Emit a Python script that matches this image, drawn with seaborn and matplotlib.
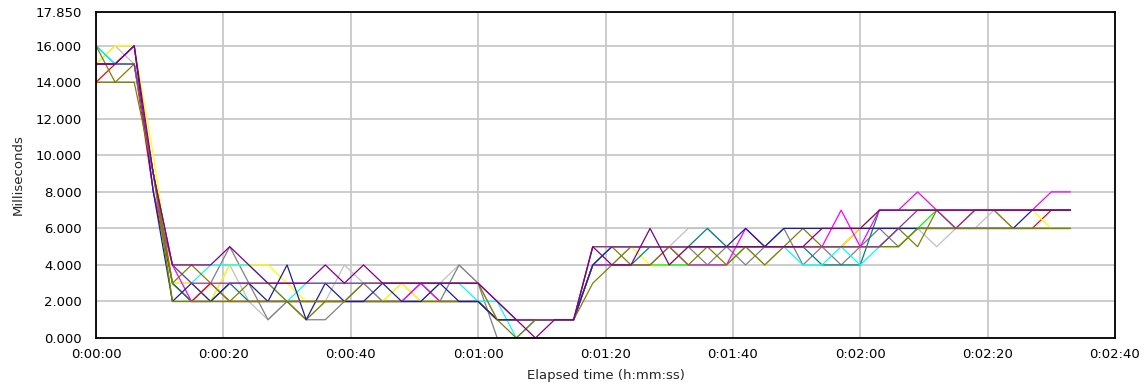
import numpy as np
import pandas as pd
import matplotlib
matplotlib.use("Agg")
import matplotlib.pyplot as plt
from matplotlib.ticker import FuncFormatter, FixedLocator
import seaborn as sns

# Sample times (seconds since start of the run)
elapsed_s = list(range(0, 154, 3))

# Response time per counter instance (ms), one value per sample
light_gray = [15, 16, 15, 9, 3,
              3, 2, 4, 2, 1, 2, 1, 2, 4, 3, 2, 3, 2, 3, 4, 3,
              1, 1, 1, 1, 1,
              4, 4, 5, 5, 5, 6, 6, 5, 5, 4, 5, 5, 5, 5, 5, 6, 6, 6, 5, 6, 6, 7, 6, 6, 6, 6]
gray = [15, 15, 15, 9, 3,
        2, 3, 5, 3, 1, 2, 1, 1, 2, 3, 2, 2, 2, 2, 4, 3,
        0, 0, 1, 1, 1,
        4, 5, 5, 5, 5, 5, 4, 5, 4, 5, 6, 4, 5, 4, 5, 6, 5, 6, 6, 6, 6, 6, 6, 6, 6, 6]
red = [14, 15, 15, 8, 3,
       2, 3, 2, 2, 2, 2, 2, 2, 2, 2, 2, 2, 2, 2, 2, 2,
       1, 1, 1, 1, 1,
       4, 5, 5, 5, 5, 5, 5, 5, 5, 5, 5, 5, 5, 5, 6, 6, 6, 6, 6, 6, 6, 6, 6, 6, 7, 7]
yellow = [15, 16, 16, 10, 3,
          3, 2, 4, 4, 4, 3, 2, 2, 2, 2, 2, 3, 2, 2, 2, 2,
          1, 1, 1, 1, 1,
          4, 5, 5, 4, 4, 5, 5, 5, 5, 5, 5, 5, 5, 5, 6, 7, 7, 7, 7, 7, 7, 7, 7, 7, 6, 6]
lime = [15, 15, 15, 9, 2,
        2, 2, 2, 2, 2, 2, 2, 2, 2, 2, 2, 2, 2, 2, 2, 2,
        1, 1, 1, 1, 1,
        4, 4, 4, 4, 4, 4, 4, 4, 5, 5, 5, 5, 5, 5, 5, 5, 5, 6, 7, 7, 7, 7, 7, 7, 7, 7]
teal = [16, 15, 15, 9, 3,
        2, 2, 3, 2, 2, 2, 2, 2, 2, 2, 2, 2, 3, 2, 2, 2,
        1, 1, 1, 1, 1,
        4, 4, 4, 5, 5, 5, 6, 5, 5, 5, 5, 5, 4, 4, 4, 7, 7, 7, 7, 7, 7, 7, 7, 7, 7, 7]
cyan = [16, 15, 15, 9, 4,
        3, 4, 4, 4, 3, 2, 3, 3, 3, 3, 3, 3, 3, 3, 3, 2,
        2, 0, 1, 1, 1,
        4, 5, 5, 5, 5, 5, 5, 5, 5, 5, 5, 4, 4, 5, 4, 5, 6, 6, 6, 6, 6, 6, 6, 6, 6, 6]
magenta = [15, 15, 16, 8, 4,
           2, 2, 2, 2, 2, 2, 2, 2, 2, 2, 2, 2, 3, 2, 2, 2,
           1, 1, 1, 1, 1,
           4, 4, 4, 4, 5, 4, 4, 4, 6, 5, 5, 5, 5, 7, 5, 7, 7, 8, 7, 7, 7, 7, 7, 7, 8, 8]
olive_b = [16, 14, 15, 9, 3,
           4, 3, 2, 3, 3, 2, 1, 2, 2, 2, 2, 2, 2, 2, 2, 2,
           1, 1, 1, 1, 1,
           5, 5, 4, 4, 5, 4, 5, 4, 5, 4, 5, 6, 5, 5, 5, 5, 6, 5, 7, 6, 7, 7, 6, 6, 6, 6]
blue = [15, 15, 16, 8, 2,
        3, 2, 3, 3, 2, 4, 1, 3, 2, 2, 3, 2, 2, 3, 2, 2,
        1, 1, 1, 1, 1,
        4, 5, 5, 5, 5, 5, 5, 5, 6, 5, 6, 6, 6, 6, 6, 6, 6, 6, 6, 6, 6, 6, 6, 7, 7, 7]
olive_a = [14, 14, 14, 9, 2,
           2, 2, 2, 2, 2, 2, 2, 2, 2, 3, 3, 3, 3, 3, 3, 3,
           1, 0, 1, 1, 1,
           3, 4, 5, 5, 5, 5, 5, 5, 5, 5, 5, 5, 5, 5, 5, 5, 5, 6, 6, 6, 6, 6, 6, 6, 6, 6]
purple_b = [15, 15, 15, 9, 4,
            3, 3, 3, 3, 3, 3, 3, 3, 3, 3, 3, 3, 3, 3, 3, 3,
            2, 1, 1, 1, 1,
            5, 5, 5, 5, 5, 5, 5, 5, 5, 5, 5, 5, 5, 5, 5, 5, 6, 7, 7, 6, 7, 7, 7, 7, 7, 7]
purple_a = [15, 15, 16, 9, 4,
            4, 4, 5, 4, 3, 3, 3, 4, 3, 4, 3, 3, 3, 3, 3, 3,
            2, 1, 0, 1, 1,
            5, 4, 4, 6, 4, 5, 5, 5, 5, 5, 5, 5, 6, 6, 6, 7, 7, 7, 7, 7, 7, 7, 7, 7, 7, 7]

series = {
    "light_gray": light_gray, "gray": gray, "red": red, "yellow": yellow,
    "lime": lime, "teal": teal, "cyan": cyan, "magenta": magenta,
    "olive_b": olive_b, "blue": blue, "olive_a": olive_a,
    "purple_b": purple_b, "purple_a": purple_a,
}
colors = {
    "light_gray": "#C0C0C0", "gray": "#808080", "red": "#FF0000", "yellow": "#FFFF00",
    "lime": "#00FF00", "teal": "#008080", "cyan": "#00FFFF", "magenta": "#FF00FF",
    "olive_b": "#808000", "blue": "#1E1EA0", "olive_a": "#808000",
    "purple_b": "#9A309A", "purple_a": "#800080",
}

df = pd.concat(
    [pd.DataFrame({"t": elapsed_s, "ms": vals, "instance": name}) for name, vals in series.items()],
    ignore_index=True,
)

y_ticks = [0, 2, 4, 6, 8, 10, 12, 14, 16, 17.85]
x_ticks = [0, 20, 40, 60, 80, 100, 120, 140, 160]

sns.set_style("white")
plt.rcParams["font.family"] = ["DejaVu Sans"]

fig = plt.figure(figsize=(11.48, 3.87), dpi=100)
ax = fig.add_axes([96 / 1148, 1 - 338 / 387, (1115 - 96) / 1148, (338 - 12) / 387])

ax.set_xlim(0, 160)
ax.set_ylim(0, 17.85)
ax.xaxis.set_major_locator(FixedLocator(x_ticks))
ax.yaxis.set_major_locator(FixedLocator(y_ticks))
ax.grid(True, color="#C8C8C8", linewidth=1.3)
ax.set_axisbelow(True)

sns.lineplot(data=df, x="t", y="ms", hue="instance", hue_order=list(series.keys()),
             palette=colors, estimator=None, sort=True, linewidth=0.9,
             legend=False, ax=ax)

ax.set_xlim(0, 160)
ax.set_ylim(0, 17.85)

ax.xaxis.set_major_formatter(FuncFormatter(
    lambda v, p: f"{int(v) // 3600}:{(int(v) % 3600) // 60:02d}:{int(v) % 60:02d}"))
ax.yaxis.set_major_formatter(FuncFormatter(lambda v, p: f"{v:.3f}"))

for side in ("left", "bottom", "top", "right"):
    ax.spines[side].set_visible(True)
    ax.spines[side].set_color("black")
    ax.spines[side].set_linewidth(1.3)

ax.tick_params(axis="both", which="major", direction="out", length=5, width=1,
               color="black", labelsize=9.5, labelcolor="black", pad=2)
ax.tick_params(axis="y", pad=5)

ax.set_xlabel("Elapsed time (h:mm:ss)", fontsize=9.5, labelpad=6)
ax.set_ylabel("Milliseconds", fontsize=9.5, labelpad=8)

fig.savefig("out.png", dpi=100, facecolor="white")
